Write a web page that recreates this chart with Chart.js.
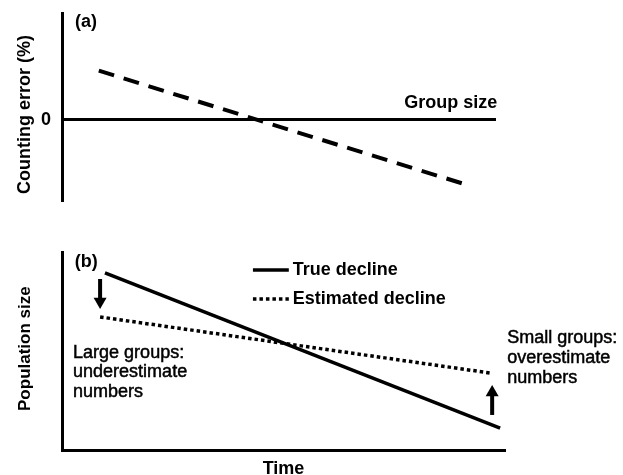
<!DOCTYPE html>
<html>
<head>
<meta charset="utf-8">
<script src="https://cdn.jsdelivr.net/npm/chart.js@4.4.1/dist/chart.umd.min.js"></script>
<style>
    html, body { margin: 0; padding: 0; background: #fff; overflow: hidden; }
    canvas { position: absolute; left: 0; }
    #chartA { top: 0; }
    #chartB { top: 215px; }
</style>
</head>
<body>
<canvas id="chartA" width="623" height="215"></canvas>
<canvas id="chartB" width="623" height="260"></canvas>
<script>
// Painel (a): erro de contagem x tamanho do grupo
const groupSize = [8.5, 92.8];
const countingError = [46, -60];
const errorTicks = [0];

// Painel (b): declínio real x estimado
const timeTrue = [9.7, 98.9];
const trueDecline = [89.4, 11.1];
const timeEstimated = [8.6, 96.6];
const estimatedDecline = [67.2, 38.9];

// Setas (início da haste, centro da ponta)
const arrowDownX = [8.6, 8.6];
const arrowDownY = [86.4, 75.0];
const arrowUpX = [97.1, 97.1];
const arrowUpY = [17.7, 29.0];

const seriesNames = ['True decline', 'Estimated decline'];
const noteLarge = ['Large groups:', 'underestimate', 'numbers'];
const noteSmall = ['Small groups:', 'overestimate', 'numbers'];

const FONTE = "'Liberation Sans', Arial, Helvetica, sans-serif";
Chart.defaults.font.family = FONTE;
Chart.defaults.color = '#000';

function pontos(xs, ys) {
    return xs.map((x, i) => ({ x: x, y: ys[i] }));
}

// Plugin para textos soltos e legenda dentro do gráfico
const notasPlugin = {
    id: 'notas',
    afterDatasetsDraw(chart, args, opts) {
        const { ctx } = chart;
        const sx = chart.scales.x;
        const sy = chart.scales.y;
        ctx.save();
        ctx.fillStyle = '#000';
        ctx.strokeStyle = '#000';
        ctx.textBaseline = 'middle';
        (opts.textos || []).forEach(t => {
            ctx.font = t.font;
            ctx.textAlign = t.align || 'left';
            ctx.lineWidth = t.traco || 0;
            const px = sx.getPixelForValue(t.x);
            const py = sy.getPixelForValue(t.y);
            const linhas = Array.isArray(t.text) ? t.text : [t.text];
            linhas.forEach((l, i) => {
                ctx.fillText(l, px, py + i * (t.gap || 0));
                // engrossa um pouco o texto normal
                if (t.traco) ctx.strokeText(l, px, py + i * (t.gap || 0));
            });
        });
        const leg = opts.legenda;
        if (leg) {
            leg.linhas.forEach((yv, i) => {
                const ds = chart.data.datasets[i];
                const py = sy.getPixelForValue(yv);
                ctx.beginPath();
                ctx.strokeStyle = ds.borderColor;
                ctx.lineWidth = ds.borderWidth;
                ctx.setLineDash(ds.borderDash || []);
                ctx.lineCap = 'butt';
                ctx.moveTo(sx.getPixelForValue(leg.x0), py);
                ctx.lineTo(sx.getPixelForValue(leg.x1), py);
                ctx.stroke();
                ctx.setLineDash([]);
                ctx.font = 'bold 18px ' + FONTE;
                ctx.textAlign = 'left';
                ctx.fillText(ds.label, sx.getPixelForValue(leg.xt), py);
            });
        }
        ctx.restore();
    }
};

// Gráfico (a)
new Chart(document.getElementById('chartA'), {
    type: 'line',
    data: {
        datasets: [{
            label: 'Counting error',
            data: pontos(groupSize, countingError),
            borderColor: '#000',
            borderWidth: 4,
            borderDash: [16, 10],
            pointRadius: 0,
            fill: false
        }]
    },
    options: {
        responsive: false,
        animation: false,
        events: [],
        layout: { autoPadding: false, padding: { top: 13, right: 128, bottom: 14, left: 0 } },
        plugins: {
            legend: { display: false },
            tooltip: { enabled: false },
            notas: {
                textos: [
                    { text: '(a)', x: 3.0, y: 91.6, font: 'bold 18px ' + FONTE },
                    { text: 'Group size', x: 100.5, y: 15.9, align: 'right', font: 'bold 18px ' + FONTE }
                ]
            }
        },
        scales: {
            x: {
                type: 'linear',
                min: 0,
                max: 100,
                position: { y: 0 },
                grid: { display: false, drawTicks: false },
                ticks: { display: false },
                border: { display: true, color: '#000', width: 3 },
                afterFit: s => { s.height = 0; }
            },
            y: {
                type: 'linear',
                min: -76,
                max: 100,
                grid: { display: false, drawTicks: false },
                border: { display: true, color: '#000', width: 3 },
                afterBuildTicks: s => { s.ticks = errorTicks.map(v => ({ value: v })); },
                ticks: { padding: 11, font: { size: 18, weight: 'bold' }, color: '#000' },
                title: {
                    display: true,
                    // espaços no fim empurram o título um pouco para baixo
                    text: 'Counting error (%)   ',
                    font: { size: 18, weight: 'bold' },
                    color: '#000',
                    padding: { top: 14, bottom: 0 }
                },
                afterFit: s => {
                    s.width = 62;
                    s.paddingTop = 0;
                    s.paddingBottom = 0;
                }
            }
        }
    },
    plugins: [notasPlugin]
});

// Gráfico (b)
new Chart(document.getElementById('chartB'), {
    type: 'line',
    data: {
        datasets: [{
            label: seriesNames[0],
            data: pontos(timeTrue, trueDecline),
            borderColor: '#000',
            borderWidth: 3.5,
            pointRadius: 0,
            fill: false
        }, {
            label: seriesNames[1],
            data: pontos(timeEstimated, estimatedDecline),
            borderColor: '#000',
            borderWidth: 3.5,
            borderDash: [3.5, 3],
            pointRadius: 0,
            fill: false
        }, {
            label: 'down',
            data: pontos(arrowDownX, arrowDownY),
            borderColor: '#000',
            backgroundColor: '#000',
            borderWidth: 4,
            pointStyle: 'triangle',
            pointRadius: [0, 7.5],
            pointRotation: 180,
            pointBorderWidth: 0,
            fill: false
        }, {
            label: 'up',
            data: pontos(arrowUpX, arrowUpY),
            borderColor: '#000',
            backgroundColor: '#000',
            borderWidth: 4,
            pointStyle: 'triangle',
            pointRadius: [0, 7.5],
            pointRotation: 0,
            pointBorderWidth: 0,
            fill: false
        }]
    },
    options: {
        responsive: false,
        animation: false,
        events: [],
        layout: { autoPadding: false, padding: { top: 37, right: 118, bottom: 0, left: 0 } },
        plugins: {
            legend: { display: false },
            tooltip: { enabled: false },
            notas: {
                textos: [
                    { text: '(b)', x: 2.9, y: 94.9, font: 'bold 18px ' + FONTE },
                    { text: noteLarge, x: 2.5, y: 49.0, gap: 19.5, traco: 0.5, font: '18px ' + FONTE },
                    { text: noteSmall, x: 100.5, y: 56.6, gap: 20, traco: 0.5, font: '18px ' + FONTE }
                ],
                legenda: { x0: 43.1, x1: 51.2, xt: 52.1, linhas: [90.9, 76.3] }
            }
        },
        scales: {
            x: {
                type: 'linear',
                min: 0,
                max: 100,
                grid: { display: false, drawTicks: false },
                ticks: { display: false },
                border: { display: true, color: '#000', width: 3 },
                title: {
                    display: true,
                    text: 'Time',
                    font: { size: 18, weight: 'bold', lineHeight: 1 },
                    color: '#000',
                    padding: { top: 0, bottom: -3 }
                },
                afterFit: s => { s.height = 25; }
            },
            y: {
                type: 'linear',
                min: 0,
                max: 100,
                grid: { display: false, drawTicks: false },
                ticks: { display: false },
                border: { display: true, color: '#000', width: 3 },
                title: {
                    display: true,
                    text: ' Population size',
                    font: { size: 17, weight: 'bold' },
                    color: '#000',
                    padding: { top: 15, bottom: 0 }
                },
                afterFit: s => { s.width = 62; }
            }
        }
    },
    plugins: [notasPlugin]
});
</script>
</body>
</html>
